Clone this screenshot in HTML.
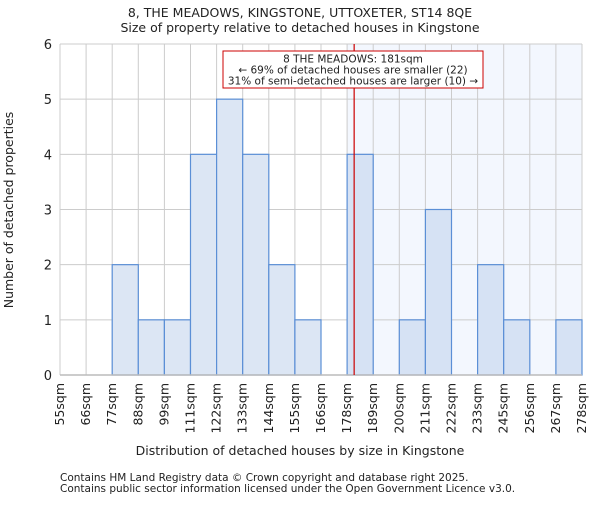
<!DOCTYPE html>
<html><head><meta charset="utf-8"><style>
body{margin:0;background:#fff}
svg text{font-family:"DejaVu Sans","Liberation Sans",sans-serif;fill:#222}
</style></head><body>
<svg id="c" width="600" height="500" xmlns="http://www.w3.org/2000/svg">
<text x="300" y="17" font-size="12.5" text-anchor="middle">8, THE MEADOWS, KINGSTONE, UTTOXETER, ST14 8QE</text>
<text x="300" y="32" font-size="12.5" text-anchor="middle">Size of property relative to detached houses in Kingstone</text>
<g id="plot"></g>
<text x="300" y="455" font-size="12.5" text-anchor="middle">Distribution of detached houses by size in Kingstone</text>
<text transform="translate(13,210) rotate(-90)" font-size="12.5" text-anchor="middle">Number of detached properties</text>
<text x="60" y="481" font-size="10.5">Contains HM Land Registry data © Crown copyright and database right 2025.</text>
<text x="60" y="492" font-size="10.5">Contains public sector information licensed under the Open Government Licence v3.0.</text>
</svg>
<script>
const edgeLabels=["55sqm","66sqm","77sqm","88sqm","99sqm","111sqm","122sqm","133sqm","144sqm","155sqm","166sqm","178sqm","189sqm","200sqm","211sqm","222sqm","233sqm","245sqm","256sqm","267sqm","278sqm"];
const counts=[0,0,2,1,1,4,5,4,2,1,0,4,0,1,3,0,2,1,0,1];
const yTicks=[0,1,2,3,4,5,6];
const propertyBin=11.27;
const highlightFromBin=11;
const NS="http://www.w3.org/2000/svg";
const g=document.getElementById('plot');
const X0=60,X1=582,Y0=375,Y1=44;
const nb=counts.length;
const xs=i=>X0+(X1-X0)*i/nb;
const ys=v=>Y0-(Y0-Y1)*v/6;
function mk(t,a){const e=document.createElementNS(NS,t);for(const k in a)e.setAttribute(k,a[k]);g.appendChild(e);return e;}
let e=mk('rect',{x:xs(highlightFromBin),y:Y1,width:X1-xs(highlightFromBin),height:Y0-Y1,fill:'#f3f7fe'});


for(let i=0;i<=nb;i++){e=mk('line',{x1:xs(i),x2:xs(i),y1:Y1,y2:Y0,stroke:'#cccccc'});

}
yTicks.forEach(v=>{e=mk('line',{x1:X0,x2:X1,y1:ys(v),y2:ys(v),stroke:'#cccccc'});


const t=mk('text',{x:X0-8,y:ys(v)+5,'font-size':13,'text-anchor':'end'});t.textContent=v;

});
counts.forEach((c,i)=>{if(!c)return;e=mk('rect',{x:xs(i),y:ys(c),width:xs(i+1)-xs(i),height:Y0-ys(c),fill:i>=highlightFromBin?'#d6e2f4':'#dce6f4',stroke:'#5b8fd6','stroke-width':1.2});

});
e=mk('line',{x1:X0,x2:X1,y1:Y0,y2:Y0,stroke:'#bbbbbb','stroke-width':1.5});


edgeLabels.forEach((l,i)=>{const t=mk('text',{transform:`translate(${xs(i)+4},383) rotate(-90)`,'font-size':12.5,'text-anchor':'end'});t.textContent=l;

});
const px=xs(propertyBin);
e=mk('line',{x1:px,x2:px,y1:Y1,y2:Y0,stroke:'#cc0000','stroke-width':1.2});


e=mk('rect',{x:223,y:51,width:260,height:37,fill:'#fff',stroke:'#cc0000','stroke-width':1});


["8 THE MEADOWS: 181sqm","← 69% of detached houses are smaller (22)","31% of semi-detached houses are larger (10) →"].forEach((s,i)=>{const t=mk('text',{x:353,y:62.5+i*11,'font-size':10.5,'text-anchor':'middle'});t.textContent=s;

});
</script>
</body></html>
